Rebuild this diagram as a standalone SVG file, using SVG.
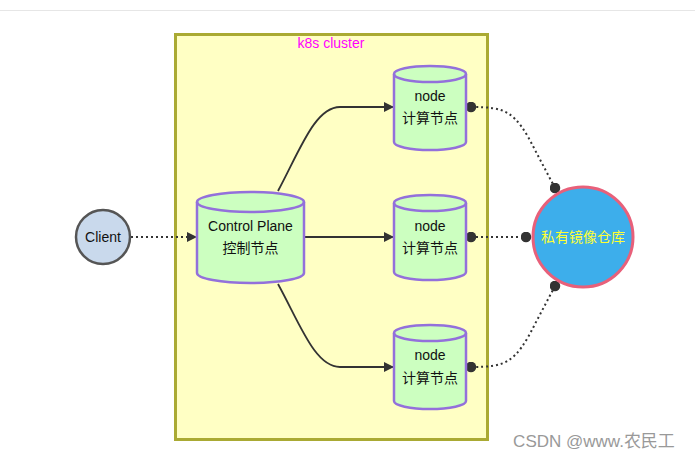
<svg xmlns="http://www.w3.org/2000/svg" width="695" height="460" viewBox="0 0 695 460">
<defs>
<marker id="arrow" viewBox="0 0 10 10" refX="9" refY="5" markerWidth="10" markerHeight="10" markerUnits="userSpaceOnUse" orient="auto">
<path d="M0,0 L10,5 L0,10 z" fill="#333"/>
</marker>
<marker id="dot" viewBox="0 0 10 10" refX="5" refY="5" markerWidth="11" markerHeight="11" markerUnits="userSpaceOnUse">
<circle cx="5" cy="5" r="4.8" fill="#333"/>
</marker>
</defs>
<style>
text{font-family:"Liberation Sans","Noto Sans CJK SC",sans-serif;font-size:14px;text-anchor:middle;fill:#111}
.cyl{fill:#ccffc0;stroke:#9370db;stroke-width:2.5}
.edge{fill:none;stroke:#333;stroke-width:1.8}
.dash{fill:none;stroke:#333;stroke-width:2;stroke-dasharray:2 3}
</style>
<rect width="695" height="460" fill="#fff"/>
<line x1="0" y1="10.5" x2="695" y2="10.5" stroke="#e6e6e6" stroke-width="1"/>
<g id="cluster">
<rect x="175.5" y="34.5" width="312" height="405" fill="#ffffc4" stroke="#aaaa33" stroke-width="3"/>
<text x="331" y="48" style="fill:#ff00ff">k8s cluster</text>
</g>
<g id="connectors">
<path class="dash" d="M131,237 L196,237" marker-end="url(#arrow)"/>
<path class="edge" d="M278,191 C300,150 315,107 340,107 L393,107" marker-end="url(#arrow)"/>
<path class="edge" d="M305,237 L393,237" marker-end="url(#arrow)"/>
<path class="edge" d="M278,284 C300,324 315,367 340,367 L393,367" marker-end="url(#arrow)"/>
<path class="dash" d="M471,107 C505,107 515,110 535,150 L555,188" marker-start="url(#dot)" marker-end="url(#dot)"/>
<path class="dash" d="M471,237 L526,237" marker-start="url(#dot)" marker-end="url(#dot)"/>
<path class="dash" d="M471,367 C505,367 515,364 535,324 L555,286" marker-start="url(#dot)" marker-end="url(#dot)"/>
</g>
<g id="client">
<circle cx="103" cy="237" r="27" fill="#c9d9ec" stroke="#555" stroke-width="2.5"/>
<text x="103" y="242">Client</text>
</g>
<g id="control-plane">
<path class="cyl" d="M197,202 L197,273 A53.5,10 0 0 0 304,273 L304,202 A53.5,10 0 0 0 197,202 Z"/>
<path class="cyl" style="fill:none" d="M197,202 A53.5,10 0 0 0 304,202"/>
<text x="250.5" y="231">Control Plane</text>
<text x="250.5" y="253">控制节点</text>
</g>
<g id="node1">
<path class="cyl" d="M394,74 L394,142 A36,8 0 0 0 466,142 L466,74 A36,8 0 0 0 394,74 Z"/>
<path class="cyl" style="fill:none" d="M394,74 A36,8 0 0 0 466,74"/>
<text x="430" y="101">node</text>
<text x="430" y="123">计算节点</text>
</g>
<g id="node2">
<path class="cyl" d="M394,203 L394,272 A36,8 0 0 0 466,272 L466,203 A36,8 0 0 0 394,203 Z"/>
<path class="cyl" style="fill:none" d="M394,203 A36,8 0 0 0 466,203"/>
<text x="430" y="231">node</text>
<text x="430" y="253">计算节点</text>
</g>
<g id="node3">
<path class="cyl" d="M394,333 L394,401 A36,8 0 0 0 466,401 L466,333 A36,8 0 0 0 394,333 Z"/>
<path class="cyl" style="fill:none" d="M394,333 A36,8 0 0 0 466,333"/>
<text x="430" y="360">node</text>
<text x="430" y="383">计算节点</text>
</g>
<g id="registry">
<circle cx="583" cy="237" r="50" fill="#3daeeb" stroke="#e8607a" stroke-width="3"/>
<text x="583" y="242" style="fill:#ffff33">私有镜像仓库</text>
</g>
<text x="594" y="447" style="fill:#999;font-size:17px">CSDN @www.农民工</text>
</svg>
